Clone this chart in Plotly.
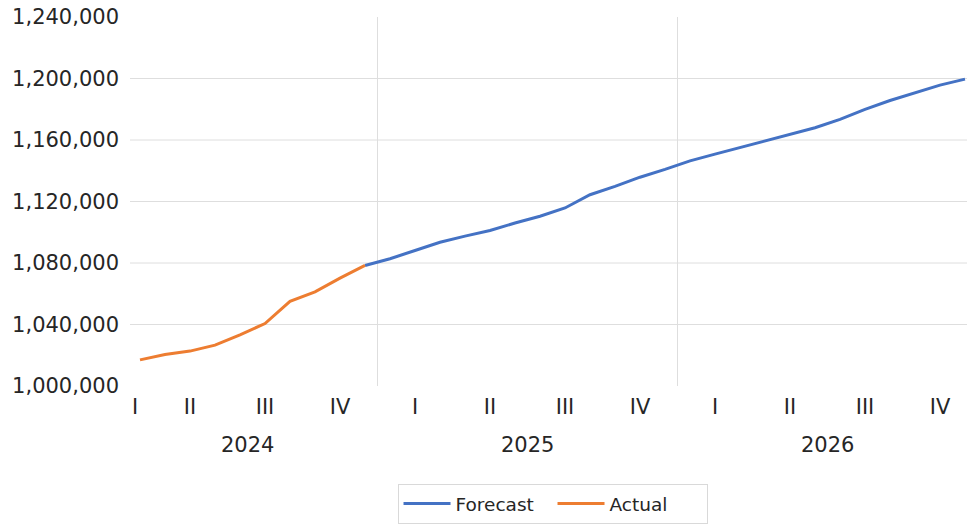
import pandas as pd
import plotly.graph_objects as go

# Monthly periods shown on the axis (Mar 2024 .. Dec 2026)
months = pd.period_range("2024-03", "2026-12", freq="M")

# Observed values, Mar 2024 .. Dec 2024
actual_values = [1017000, 1020500, 1022700, 1026600, 1033300,
                 1040600, 1055100, 1061200, 1070200, 1078400]

# Forecast, Dec 2024 .. Dec 2026
forecast_values = [1078400,
                   1082800, 1088100, 1093500, 1097500, 1101100, 1106000,
                   1110400, 1115800, 1124400, 1129800, 1135800, 1140900,
                   1146400, 1150800, 1155100, 1159400, 1163700, 1168000,
                   1173400, 1179900, 1185700, 1190700, 1195700, 1199600]

quarter_labels = ["I", "II", "III", "IV"]
year_labels = ["2024", "2025", "2026"]
y_ticks = [1000000, 1040000, 1080000, 1120000, 1160000, 1200000, 1240000]

FONT = "DejaVu Sans"
TEXT = "#262626"
GRID = "#dedede"
BLUE = "#4472C4"
ORANGE = "#ED7D31"

idx = list(range(len(months)))
actual_x = idx[:len(actual_values)]
forecast_x = idx[len(actual_values) - 1:len(actual_values) - 1 + len(forecast_values)]

x_min, x_max = -0.4, 33.08
label_start = -0.9  # left edge used for centring the first (partial) groups


def group_center(members):
    lo = min(members) - 0.5 if min(members) > 0 else label_start
    hi = max(members) + 0.5
    return (lo + hi) / 2


# quarter tick positions
q_vals, q_text = [], []
for (yr, q), grp in pd.Series(idx, index=months).groupby([months.year, months.quarter]):
    q_vals.append(group_center(list(grp)))
    q_text.append(quarter_labels[q - 1])

# year label positions and boundaries
y_centers, boundaries = [], []
for yr, grp in pd.Series(idx, index=months).groupby(months.year):
    y_centers.append(group_center(list(grp)))
    if max(grp) < idx[-1]:
        boundaries.append(max(grp) + 0.5)

fig = go.Figure()
fig.add_trace(go.Scatter(x=forecast_x, y=forecast_values, mode="lines", name="Forecast",
                         line=dict(color=BLUE, width=3)))
fig.add_trace(go.Scatter(x=actual_x, y=actual_values, mode="lines", name="Actual",
                         line=dict(color=ORANGE, width=3)))

shapes = []
for v in y_ticks[1:-1]:
    shapes.append(dict(type="line", xref="paper", x0=0, x1=1, yref="y", y0=v, y1=v,
                       line=dict(color=GRID, width=1), layer="below"))
for b in boundaries:
    shapes.append(dict(type="line", xref="x", x0=b, x1=b, yref="paper", y0=0, y1=1,
                       line=dict(color=GRID, width=1), layer="below"))

annotations = [dict(x=c, y=0, xref="x", yref="paper", yshift=-59, text=t,
                    showarrow=False, yanchor="middle", xanchor="center",
                    font=dict(family=FONT, size=21, color=TEXT))
               for c, t in zip(y_centers, year_labels)]

fig.update_layout(
    width=967, height=524,
    margin=dict(l=130, r=0, t=17, b=136),
    paper_bgcolor="white", plot_bgcolor="white",
    font=dict(family=FONT, color=TEXT),
    shapes=shapes, annotations=annotations,
    xaxis=dict(range=[x_min, x_max], tickvals=q_vals, ticktext=q_text,
               showgrid=False, zeroline=False, showline=False, ticks="",
               tickfont=dict(family=FONT, size=21, color=TEXT), ticklabelstandoff=6),
    yaxis=dict(range=[y_ticks[0], y_ticks[-1]], tickvals=y_ticks, tickformat=",d",
               showgrid=False, zeroline=False, showline=False, ticks="",
               tickfont=dict(family=FONT, size=21, color=TEXT), ticklabelstandoff=10),
    legend=dict(orientation="h", x=0.5048, xanchor="center", y=-0.267, yanchor="top",
                bgcolor="white", bordercolor="#d9d9d9", borderwidth=1,
                font=dict(family=FONT, size=18.5, color=TEXT),
                itemwidth=47, entrywidth=92, entrywidthmode="pixels"),
    showlegend=True,
)

fig.write_html("out.html")
